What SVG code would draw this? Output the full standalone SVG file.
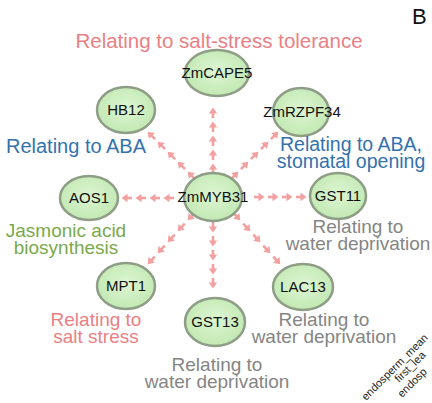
<svg xmlns="http://www.w3.org/2000/svg" width="432" height="403" viewBox="0 0 432 403">
<defs>
<radialGradient id="g" cx="50%" cy="45%" r="60%">
<stop offset="0" stop-color="#ddf6d3"/>
<stop offset="1" stop-color="#c0e7b0"/>
</radialGradient>
<marker id="ar" markerUnits="userSpaceOnUse" viewBox="-11 -5 13 10" markerWidth="13" markerHeight="10" refX="0" refY="0" orient="auto" overflow="visible">
<path d="M-10,0 H-3" stroke="#f2a0a0" stroke-width="2.6" fill="none"/>
<path d="M0.5,0 L-5.5,-4.2 L-5.5,4.2 Z" fill="#f2a0a0"/>
</marker>
</defs>
<style>
.n ellipse{fill:url(#g);stroke:#8e9e86;stroke-width:2.5}
.n text{font-family:"Liberation Sans",Arial,sans-serif;font-size:15px;fill:#111;text-anchor:middle}
.c path{fill:none;stroke:none;marker-start:url(#ar);marker-mid:url(#ar);marker-end:url(#ar)}
.l{font-family:"Liberation Sans",Arial,sans-serif;font-size:19px;text-anchor:middle}
.pk{fill:#ea8084}.bl{fill:#3472ad}.gr{fill:#7aa94c}.gy{fill:#858585}
.hm{font-family:"Liberation Sans",Arial,sans-serif;font-size:11px;fill:#222}
</style>
<rect width="432" height="403" fill="#fff"/>
<g id="connectors" class="c">
<path d="M213,164 L213,150 L213,136 L213,122 L213,108"/>
<path d="M164,198 L150,198 L136,198 L122,198"/>
<path d="M264,197 L278,197 L292,197 L306,197"/>
<path d="M213,232 L213,246 L213,260 L213,274 L213,288"/>
<path d="M188,172 L178,162 L168,152 L158,142 L148,132"/>
<path d="M238,172 L248,162 L258,152 L268,142 L278,132"/>
<path d="M188,220 L178,231 L168,242 L158,253 L148,264"/>
<path d="M240,220 L250,231 L260,242 L270,253 L280,264"/>
</g>
<g id="ZmMYB31" class="n"><ellipse cx="213" cy="197" rx="29" ry="24"/><text x="213" y="202">ZmMYB31</text></g>
<g id="ZmCAPE5" class="n"><ellipse cx="217" cy="73" rx="32" ry="23"/><text x="217" y="78">ZmCAPE5</text></g>
<g id="HB12" class="n"><ellipse cx="126" cy="110" rx="29" ry="23"/><text x="126" y="115">HB12</text></g>
<g id="ZmRZPF34" class="n"><ellipse cx="301" cy="112" rx="28" ry="24"/><text x="302" y="117">ZmRZPF34</text></g>
<g id="AOS1" class="n"><ellipse cx="89" cy="198" rx="29" ry="22"/><text x="89" y="203">AOS1</text></g>
<g id="GST11" class="n"><ellipse cx="338" cy="196" rx="28" ry="23"/><text x="338" y="201">GST11</text></g>
<g id="MPT1" class="n"><ellipse cx="126" cy="286" rx="29" ry="23"/><text x="126" y="291">MPT1</text></g>
<g id="GST13" class="n"><ellipse cx="215" cy="322" rx="30" ry="24"/><text x="215" y="327">GST13</text></g>
<g id="LAC13" class="n"><ellipse cx="303" cy="287" rx="30" ry="23"/><text x="303" y="292">LAC13</text></g>
<g id="labels">
<text class="l pk" x="219" y="48" style="font-size:20.5px">Relating to salt-stress tolerance</text>
<text class="l bl" x="76" y="153" style="font-size:20px">Relating to ABA</text>
<text class="l bl" style="font-size:19.5px"><tspan x="351" y="151">Relating to ABA,</tspan><tspan x="351" y="168">stomatal opening</tspan></text>
<text class="l gr"><tspan x="66" y="237">Jasmonic acid</tspan><tspan x="66" y="254">biosynthesis</tspan></text>
<text class="l gy"><tspan x="358" y="233">Relating to</tspan><tspan x="358" y="250">water deprivation</tspan></text>
<text class="l pk"><tspan x="96" y="326">Relating to</tspan><tspan x="96" y="343">salt stress</tspan></text>
<text class="l gy"><tspan x="324" y="326">Relating to</tspan><tspan x="324" y="343">water deprivation</tspan></text>
<text class="l gy"><tspan x="217" y="371">Relating to</tspan><tspan x="217" y="388">water deprivation</tspan></text>
</g>
<text x="412" y="24" style="font-family:'Liberation Sans',Arial,sans-serif;font-size:22px;fill:#111">B</text>
<text class="hm" transform="translate(366,401) rotate(-45)">endosperm_mean</text>
<text class="hm" transform="translate(399,383) rotate(-45)">first_lea</text>
<text class="hm" transform="translate(402,398) rotate(-45)">endosp</text>
</svg>
